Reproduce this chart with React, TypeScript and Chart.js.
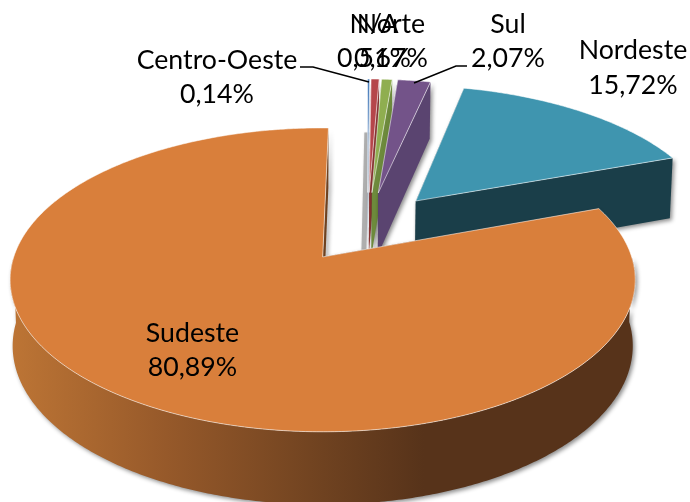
import React, { useEffect, useRef } from "react";
import { Chart, registerables } from "chart.js";

Chart.register(...registerables);

const categories = ["Centro-Oeste", "N/A", "Norte", "Sul", "Nordeste", "Sudeste"];
const shares = [0.14, 0.51, 0.67, 2.07, 15.72, 80.89];
const topColors = ["#4f81bd", "#b5464a", "#8fae50", "#735389", "#3f95af", "#d97f3b"];
const wallColors = ["#9db4cf", "#8a3533", "#6d8a3c", "#5a4470", "#1a3e49", "#57331a"];

// label block centres (x, first line y, second line y)
const labelLayout = [
  [217, 60, 94],
  [374, 24, 58],
  [391, 24, 58],
  [508, 24, 58],
  [633, 50, 85],
  [192.5, 333, 367],
];
const leaderLines = [
  [[300, 67], [313, 67], [369, 82]],
  [[467, 66], [456, 66], [414, 83]],
];

// perspective of the pie's plane
const P = { cx: 323.5, cy: 257, W: 309, A: 148.5, k: 0.151, D: 65, shrink: 0.992, Cu: 0.1465, Cv: -0.2088 };

function project(u: number, v: number, low: boolean) {
  const s = 1 / (1 - P.k * v);
  let x = P.cx + P.W * u * s;
  let y = P.cy + P.A * v * s;
  if (low) {
    x = P.cx + (x - P.cx) * P.shrink;
    y += P.D * Math.pow(s, 0.7);
  }
  return [x, y];
}

function fmt(v: number) {
  return v.toFixed(2).replace(".", ",") + "%";
}

const pie3d = {
  id: "pie3d",
  beforeDatasetDraw(chart: any) {
    const ctx = chart.ctx;
    const arcs = chart.getDatasetMeta(0).data;
    arcs.forEach((el: any, i: number) => {
      const { startAngle, endAngle, outerRadius } = el.getProps(["startAngle", "endAngle", "outerRadius"]);
      const mid = (startAngle + endAngle) / 2;
      const off = (el.options.offset || 0) / 4 / outerRadius;
      const au = P.Cu + Math.cos(mid) * off;
      const av = P.Cv + Math.sin(mid) * off;
      const n = Math.max(2, Math.ceil((endAngle - startAngle) / 0.01));
      const upper: number[][] = [];
      const lower: number[][] = [];
      const frontUpper: number[][] = [];
      const frontLower: number[][] = [];
      for (let j = 0; j <= n; j++) {
        const a = startAngle + ((endAngle - startAngle) * j) / n;
        const u = au + Math.cos(a);
        const v = av + Math.sin(a);
        const top = project(u, v, false);
        const low = project(u, v, true);
        upper.push(top);
        lower.push(low);
        if (Math.sin(a) > 0) {
          frontUpper.push(top);
          frontLower.push(low);
        }
      }
      const apex = project(au, av, false);
      const apexLow = project(au, av, true);
      const isBig = i === arcs.length - 1;
      let wallFill: any = wallColors[i];
      if (isBig) {
        const g = ctx.createLinearGradient(10, 0, 637, 0);
        g.addColorStop(0, "#bd7535");
        g.addColorStop(0.25, "#96592a");
        g.addColorStop(0.5, "#6f4220");
        g.addColorStop(0.66, "#57331a");
        g.addColorStop(1, "#57331a");
        wallFill = g;
      }
      if (i === 0) {
        // soft grey shadow falling to the left of the first wedge
        ctx.save();
        ctx.strokeStyle = "rgba(165,165,165,0.85)";
        ctx.lineWidth = 5;
        ctx.shadowColor = "rgba(0,0,0,0.15)";
        ctx.shadowBlur = 2;
        ctx.beginPath();
        ctx.moveTo(lower[n][0] - 2.5, lower[n][1] - 3);
        ctx.lineTo(apexLow[0] - 3.5, apexLow[1]);
        ctx.stroke();
        ctx.restore();
      }
      ctx.save();
      ctx.shadowColor = "rgba(0,0,0,0.45)";
      ctx.shadowBlur = 4;
      ctx.shadowOffsetX = 2;
      ctx.shadowOffsetY = 2;
      ctx.fillStyle = wallFill;
      const poly = (pts: number[][]) => {
        ctx.beginPath();
        pts.forEach((p, k) => (k ? ctx.lineTo(p[0], p[1]) : ctx.moveTo(p[0], p[1])));
        ctx.closePath();
        ctx.fill();
      };
      if (i > 0) {
        poly([apex, upper[0], lower[0], apexLow]);
      }
      poly([apex, upper[n], lower[n], apexLow]);
      if (frontUpper.length > 1) {
        poly([...frontUpper, ...frontLower.slice().reverse()]);
      }
      ctx.restore();

      ctx.save();
      ctx.beginPath();
      ctx.moveTo(apex[0], apex[1]);
      upper.forEach((p) => ctx.lineTo(p[0], p[1]));
      ctx.closePath();
      ctx.fillStyle = el.options.backgroundColor;
      ctx.fill();
      ctx.strokeStyle = "rgba(255,255,255,0.55)";
      ctx.lineWidth = 1;
      ctx.stroke();
      ctx.restore();
    });
    return false;
  },
  afterDatasetsDraw(chart: any) {
    const ctx = chart.ctx;
    ctx.save();
    ctx.strokeStyle = "#000";
    ctx.lineWidth = 1.5;
    leaderLines.forEach((line) => {
      ctx.beginPath();
      line.forEach((p, k) => (k ? ctx.lineTo(p[0], p[1]) : ctx.moveTo(p[0], p[1])));
      ctx.stroke();
    });
    ctx.fillStyle = "#000";
    ctx.font = "26.7px Lato";
    ctx.textAlign = "center";
    ctx.textBaseline = "middle";
    categories.forEach((name, i) => {
      const [x, y1, y2] = labelLayout[i];
      ctx.fillText(name, x, y1);
      ctx.fillText(fmt(shares[i]), x, y2);
    });
    ctx.restore();
  },
};

export default function App() {
  const ref = useRef<HTMLCanvasElement>(null);
  useEffect(() => {
    const chart = new Chart(ref.current as HTMLCanvasElement, {
      type: "pie",
      data: {
        labels: categories,
        datasets: [{ data: shares, backgroundColor: topColors, borderWidth: 0, offset: 170 }],
      },
      options: {
        responsive: false,
        animation: false,
        rotation: 1.2,
        layout: { padding: 0 },
        plugins: { legend: { display: false }, tooltip: { enabled: false } },
      },
      plugins: [pie3d],
    } as any);
    return () => chart.destroy();
  }, []);
  return (
    <canvas
      ref={ref}
      width={690}
      height={502}
      style={{ position: "fixed", left: 0, top: 0, width: 690, height: 502, background: "#fff" }}
    />
  );
}
